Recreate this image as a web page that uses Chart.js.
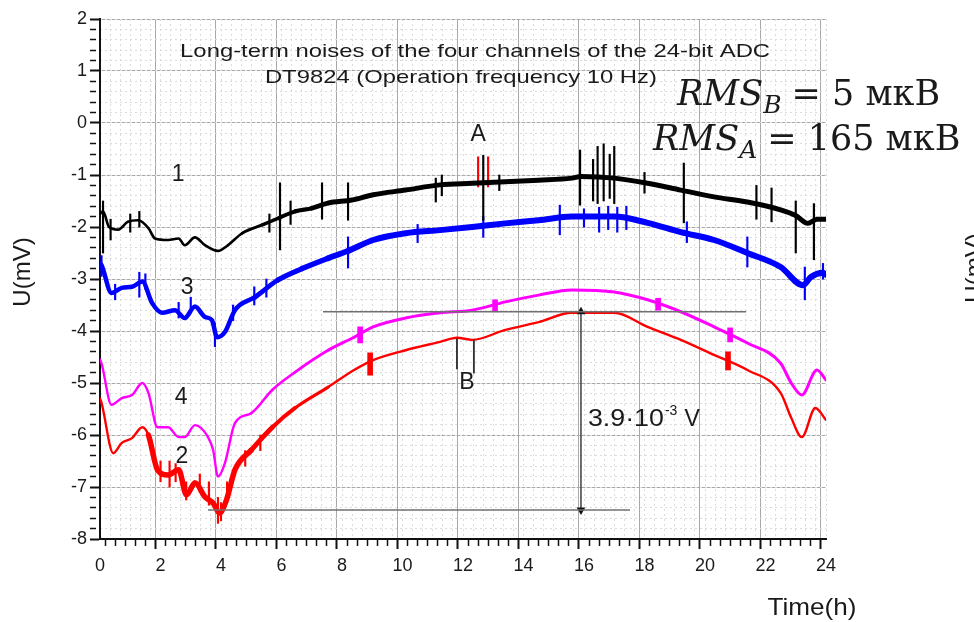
<!DOCTYPE html>
<html>
<head>
<meta charset="utf-8">
<script src="https://cdn.jsdelivr.net/npm/chart.js@4/dist/chart.umd.min.js"></script>
<style>
  html, body { margin: 0; padding: 0; background: #fff; }
  #wrap { width: 974px; height: 622px; position: relative; }
</style>
</head>
<body>
<div id="wrap"><canvas id="noise-chart"></canvas></div>
<script>
// values (time in hours, voltage in mV)
const tBlack = [0, 0.1, 0.3, 0.6, 0.92, 1.26, 1.6, 1.82, 2.25, 2.6, 2.8, 3.14, 3.47, 3.9, 4.23, 4.7, 5.36, 5.9, 6.45, 7.0, 7.54, 8.33, 9.03, 10.1, 11.24, 12.3, 13.4, 14.5, 15.6, 15.9, 17.0, 18.1, 19.2, 20.3, 21.4, 22.5, 23.0, 23.4, 23.7, 24];
const vBlack = [-1.75, -1.7, -2.0, -2.05, -1.9, -1.87, -2.02, -2.22, -2.25, -2.22, -2.35, -2.2, -2.35, -2.46, -2.35, -2.12, -1.96, -1.83, -1.7, -1.64, -1.54, -1.48, -1.38, -1.29, -1.19, -1.16, -1.13, -1.1, -1.06, -1.03, -1.06, -1.16, -1.29, -1.42, -1.52, -1.67, -1.78, -1.93, -1.85, -1.85];

const tBlue = [0, 0.05, 0.38, 0.72, 1.06, 1.4, 1.72, 2.05, 2.48, 2.8, 3.14, 3.47, 3.7, 3.87, 4.13, 4.46, 5.12, 5.88, 6.68, 7.54, 8.2, 9.03, 10.1, 11.24, 12.3, 13.4, 14.5, 15.6, 17.0, 18.1, 19.2, 20.3, 21.4, 22.5, 23.24, 23.5, 23.9, 24];
const vBlue = [-2.7, -2.73, -3.27, -3.17, -3.15, -3.05, -3.46, -3.65, -3.6, -3.75, -3.53, -3.73, -3.79, -4.12, -4.02, -3.6, -3.35, -3.02, -2.8, -2.6, -2.46, -2.25, -2.12, -2.06, -2.0, -1.93, -1.87, -1.8, -1.8, -1.92, -2.1, -2.25, -2.5, -2.77, -3.12, -2.96, -2.88, -2.92];

const tMagenta = [0, 0.05, 0.38, 0.72, 1.06, 1.4, 1.6, 1.9, 2.25, 2.6, 2.8, 3.14, 3.57, 3.74, 3.9, 4.13, 4.46, 5.0, 5.7, 6.45, 7.54, 8.4, 9.03, 10.1, 11.24, 12.3, 13.4, 14.5, 15.6, 17.0, 18.1, 19.2, 20.3, 21.4, 22.5, 22.85, 23.2, 23.7, 24];
const vMagenta = [-4.55, -4.62, -5.42, -5.29, -5.23, -5.0, -5.19, -5.85, -5.85, -6.04, -6.04, -5.81, -6.04, -6.29, -6.8, -6.54, -5.77, -5.58, -5.13, -4.79, -4.37, -4.12, -3.92, -3.75, -3.65, -3.6, -3.44, -3.31, -3.21, -3.25, -3.4, -3.63, -3.92, -4.23, -4.62, -5.0, -5.23, -4.75, -4.94];

const tRed = [0, 0.05, 0.44, 0.72, 1.06, 1.4, 1.6, 1.9, 2.25, 2.6, 2.86, 3.14, 3.47, 3.74, 3.95, 4.18, 4.46, 5.0, 5.7, 6.45, 7.54, 8.4, 9.03, 10.1, 11.24, 11.8, 12.3, 13.4, 14.5, 15.6, 17.0, 18.1, 19.2, 20.3, 21.4, 22.5, 22.85, 23.2, 23.65, 24];
const vRed = [-5.3, -5.38, -6.35, -6.15, -6.06, -5.85, -6.0, -6.67, -6.77, -6.67, -7.15, -6.92, -7.19, -7.31, -7.5, -7.25, -6.67, -6.29, -5.85, -5.48, -5.08, -4.75, -4.56, -4.37, -4.21, -4.13, -4.17, -3.98, -3.83, -3.65, -3.65, -3.92, -4.17, -4.46, -4.75, -5.19, -5.67, -6.04, -5.48, -5.71];

// noise spikes: time, low, high
const spkBlackT = [0.1, 0.35, 1.0, 1.3, 5.6, 5.95, 6.3, 7.34, 8.2, 11.1, 11.3, 12.67, 13.2, 15.87, 16.3, 16.45, 16.65, 16.85, 17.0, 18.0, 19.3, 21.7, 22.2, 23.0, 23.6];
const spkBlackLo = [-2.5, -2.25, -2.1, -2.0, -2.1, -2.44, -1.95, -1.85, -1.87, -1.52, -1.4, -1.87, -1.3, -1.58, -1.5, -1.55, -1.5, -1.45, -1.55, -1.35, -1.92, -1.85, -1.9, -2.5, -2.63];
const spkBlackHi = [-1.5, -1.85, -1.75, -1.7, -1.75, -1.15, -1.5, -1.15, -1.15, -1.06, -1.0, -0.62, -1.0, -0.52, -0.7, -0.45, -0.4, -0.6, -0.45, -0.95, -0.77, -1.2, -1.25, -1.5, -1.55];

const spkBlueT = [0.05, 0.5, 1.3, 1.5, 2.6, 3.0, 3.8, 4.4, 5.1, 5.5, 8.2, 10.5, 12.67, 15.2, 16.0, 16.5, 16.8, 17.1, 17.4, 19.4, 21.4, 23.3, 23.9];
const spkBlueLo = [-2.95, -3.4, -3.35, -3.2, -3.75, -3.65, -4.3, -3.8, -3.5, -3.35, -2.79, -2.3, -2.2, -2.15, -2.0, -2.1, -2.05, -2.1, -2.05, -2.3, -2.77, -3.4, -3.0];
const spkBlueHi = [-2.55, -3.1, -2.87, -2.9, -3.45, -3.35, -3.85, -3.5, -3.15, -3.0, -2.19, -1.95, -1.8, -1.58, -1.65, -1.62, -1.6, -1.62, -1.6, -1.9, -2.19, -2.77, -2.7];

const spkRedT = [2.0, 2.3, 2.5, 2.85, 3.3, 3.6, 3.9, 4.0, 4.2, 4.8, 5.3, 12.5, 12.83];
const spkRedLo = [-6.9, -7.0, -6.9, -7.25, -7.1, -7.35, -7.7, -7.65, -7.3, -6.6, -6.3, -1.23, -1.23];
const spkRedHi = [-6.5, -6.5, -6.55, -6.9, -6.75, -6.9, -7.2, -7.3, -6.9, -6.3, -6.0, -0.65, -0.65];

// fuzzy bursts
const burstMagT = [8.6, 13.06, 18.45, 20.83];
const burstMagLo = [-4.23, -3.63, -3.6, -4.21];
const burstMagHi = [-3.92, -3.4, -3.37, -3.94];
const burstRedT = [8.93, 20.76];
const burstRedLo = [-4.85, -4.75];
const burstRedHi = [-4.42, -4.4];

// annotation marks
const refTop = {t0: 7.37, t1: 21.36, v: -3.63};
const refBottom = {t0: 3.57, t1: 17.52, v: -7.44};
const arrowT = 15.9;
const markBT = [11.8, 12.36];
const markBLo = [-4.73, -4.81];
const markBHi = [-4.15, -4.17];

const xMajor = [0, 2, 4, 6, 8, 10, 12, 14, 16, 18, 20, 22, 24];
const yMajor = [-8, -7, -6, -5, -4, -3, -2, -1, 0, 1, 2];
const titleLines = ['Long-term noises of the four channels of the 24-bit ADC', 'DT9824 (Operation frequency 10 Hz)'];
const curveTags = [['1', 2.58, -1.0], ['3', 2.88, -3.17], ['4', 2.68, -5.29], ['2', 2.71, -6.42], ['A', 12.5, -0.23], ['B', 12.13, -5.0]];

const pts = (ts, vs) => ts.map((t, i) => ({x: t, y: vs[i]}));
const bars = (ts, lo, hi) => ts.map((t, i) => ({x: t, y: [lo[i], hi[i]]}));

const xMinor = [];
for (let i = 0; i <= 72; i++) xMinor.push(i / 3);
const yMinor = [];
for (let i = 0; i <= 50; i++) yMinor.push(Math.round((-8 + i * 0.2) * 10) / 10);
const isMajX = c => !c.tick || xMajor.some(m => Math.abs(m - c.tick.value) < 1e-6);
const isMajY = c => !c.tick || yMajor.some(m => Math.abs(m - c.tick.value) < 1e-6);

// line width that grows from w0 to w1 between t0 and t1 (noisier stretch drawn wider)
const ramp = (w0, w1, t0, t1) => t => t <= t0 ? w0 : t >= t1 ? w1 : w0 + (w1 - w0) * (t - t0) / (t1 - t0);

function lineSet(label, data, color, width, order) {
    return {type: 'line', label: label, data: data, borderColor: color, backgroundColor: color,
            borderWidth: width, pointRadius: 0, tension: 0, fill: false, order: order,
            borderJoinStyle: 'round'};
}
function curveSet(label, data, color, width, order) {
    const ds = lineSet(label, data, color, 2, order);
    ds.cubicInterpolationMode = 'monotone';
    ds.borderCapStyle = 'round';
    ds.segment = {borderWidth: c => width(c.p0.parsed.x)};
    return ds;
}
function barSet(label, data, color, thick, order) {
    return {type: 'bar', label: label, data: data, backgroundColor: color, borderWidth: 0,
            barThickness: thick, grouped: false, order: order};
}

const notes = {
    id: 'notes',
    afterDraw(chart) {
        const {ctx} = chart;
        const X = v => chart.scales.x.getPixelForValue(v);
        const Y = v => chart.scales.y.getPixelForValue(v);
        // text stretched to the width it has in the picture
        const fit = (s, x, y, w, align) => {
            const m = ctx.measureText(s).width;
            ctx.save();
            ctx.translate(x, y);
            ctx.scale(w / m, 1);
            ctx.textAlign = align || 'center';
            ctx.fillText(s, 0, 0);
            ctx.restore();
        };
        ctx.save();
        ctx.fillStyle = '#1a1a1a';
        ctx.textBaseline = 'middle';
        ctx.textAlign = 'center';
        ctx.font = '19px "Liberation Sans"';
        fit(titleLines[0], X(12.4), Y(1.37), 590);
        fit(titleLines[1], X(11.93), Y(0.87), 392);

        ctx.font = '23px "Liberation Sans"';
        curveTags.forEach(c => ctx.fillText(c[0], X(c[1]), Y(c[2])));

        // 3.9·10^-3 V
        ctx.textAlign = 'left';
        ctx.font = '23px "Liberation Sans"';
        let px = X(16.13), py = Y(-5.71);
        fit('3.9\u00b710', px, py, 76, 'left');
        px += 77;
        ctx.font = '14px "Liberation Sans"';
        ctx.fillText('-3', px, py - 9);
        px += ctx.measureText('-3').width + 7;
        ctx.font = '23px "Liberation Sans"';
        ctx.fillText('V', px, py);

        // axis titles
        ctx.font = '24px "Liberation Sans"';
        ctx.textAlign = 'center';
        fit('Time(h)', 812, 608, 89);
        ctx.save();
        ctx.translate(23, 272);
        ctx.rotate(-Math.PI / 2);
        ctx.fillText('U(mV)', 0, 0);
        ctx.restore();
        // cut-off label of the neighbouring panel
        ctx.save();
        ctx.translate(963, 268);
        ctx.rotate(-Math.PI / 2);
        ctx.textBaseline = 'top';
        ctx.fillText('U(mV)', 0, 0);
        ctx.restore();

        // RMS notes
        const rms = (x0, base, sub, rest) => {
            ctx.textAlign = 'left';
            ctx.textBaseline = 'alphabetic';
            ctx.font = 'italic 35px "DejaVu Serif"';
            ctx.fillText('RMS', x0, base);
            let x = x0 + ctx.measureText('RMS').width;
            ctx.font = 'italic 25px "DejaVu Serif"';
            ctx.fillText(sub, x, base + 8);
            x += ctx.measureText(sub).width + 10;
            ctx.font = '35px "DejaVu Serif"';
            ctx.fillText(rest, x, base);
        };
        rms(677, 105, 'B', '= 5 \u043c\u043a\u0412');
        rms(653, 150, 'A', '= 165 \u043c\u043a\u0412');
        ctx.restore();
    }
};

const tickFont = {family: 'Liberation Sans', size: 18};

new Chart('noise-chart', {
    type: 'line',
    data: {
        datasets: [
            lineSet('ref top', [{x: refTop.t0, y: refTop.v}, {x: refTop.t1, y: refTop.v}], '#707070', 1.5, 0),
            lineSet('ref bottom', [{x: refBottom.t0, y: refBottom.v}, {x: refBottom.t1, y: refBottom.v}], '#707070', 1.5, 0),
            Object.assign(lineSet('arrow', [{x: arrowT, y: refTop.v}, {x: arrowT, y: refBottom.v}], '#111', 1.2, 0),
                {pointRadius: 5, pointStyle: 'triangle', pointRotation: [0, 180], pointBorderWidth: 0}),
            barSet('B marks', bars(markBT, markBLo, markBHi), '#333', 1.2, 0),
            barSet('black spikes', bars(spkBlackT, spkBlackLo, spkBlackHi), '#000', 1.5, 1),
            curveSet('1', pts(tBlack, vBlack), '#000', ramp(2.6, 5, 4.2, 7.5), 1),
            barSet('blue spikes', bars(spkBlueT, spkBlueLo, spkBlueHi), '#0000ff', 1.5, 2),
            curveSet('3', pts(tBlue, vBlue), '#0000ff', ramp(4.5, 6, 4.5, 8), 2),
            barSet('magenta bursts', bars(burstMagT, burstMagLo, burstMagHi), '#ff00ff', 5, 3),
            curveSet('4', pts(tMagenta, vMagenta), '#ff00ff', ramp(2.4, 3, 4.5, 8), 3),
            barSet('red spikes', bars(spkRedT, spkRedLo, spkRedHi), '#ff0000', 1.5, 4),
            barSet('red bursts', bars(burstRedT, burstRedLo, burstRedHi), '#ff0000', 5, 4),
            curveSet('2', pts(tRed, vRed), '#ff0000', t => t < 1.6 ? 2.4 : t < 4.5 ? 5.5 : Math.max(2.4, 5.5 - (t - 4.5) * 1.2), 4)
        ]
    },
    options: {
        responsive: true,
        maintainAspectRatio: false,
        animation: false,
        layout: {padding: {top: 19, right: 148, left: 0, bottom: 0}},
        plugins: {legend: {display: false}, tooltip: {enabled: false}, title: {display: false}},
        scales: {
            x: {
                type: 'linear', min: 0, max: 24, position: 'bottom', offset: false,
                afterBuildTicks: s => { s.ticks = xMinor.map(v => ({value: v})); },
                afterFit: s => { s.height = 83; },
                ticks: {autoSkip: false, maxRotation: 0, padding: 6, color: '#1a1a1a', font: tickFont,
                        callback: v => xMajor.some(m => Math.abs(m - v) < 1e-6) ? String(Math.round(v)) : ''},
                grid: {color: c => isMajX(c) ? '#a8a8a8' : 'rgba(0,0,0,0)',
                       tickLength: 10, tickColor: '#111',
                       tickWidth: c => isMajX(c) ? 2 : 1.5,
                       tickBorderDash: c => isMajX(c) ? [] : [6, 30]},
                border: {color: '#111', width: 2}
            },
            xm: {
                type: 'linear', min: 0, max: 24, position: 'bottom', offset: false,
                afterBuildTicks: s => { s.ticks = xMinor.map(v => ({value: v})); },
                afterFit: s => { s.height = 0; },
                ticks: {display: false},
                grid: {color: '#dcdcdc', drawTicks: false, z: -1},
                border: {display: false, dash: [2, 3]}
            },
            y: {
                type: 'linear', min: -8, max: 2, position: 'left',
                afterBuildTicks: s => { s.ticks = yMinor.map(v => ({value: v})); },
                afterFit: s => { s.width = 100; },
                ticks: {autoSkip: false, padding: 3, color: '#1a1a1a', font: tickFont,
                        callback: v => yMajor.some(m => Math.abs(m - v) < 1e-6) ? String(Math.round(v)) : ''},
                grid: {color: c => isMajY(c) ? '#a8a8a8' : 'rgba(0,0,0,0)',
                       tickLength: 10, tickColor: '#111',
                       tickWidth: c => isMajY(c) ? 2 : 1.5,
                       tickBorderDash: c => isMajY(c) ? [] : [6, 30]},
                border: {color: '#111', width: 2}
            },
            ym: {
                type: 'linear', min: -8, max: 2, position: 'left',
                afterBuildTicks: s => { s.ticks = yMinor.map(v => ({value: v})); },
                afterFit: s => { s.width = 0; },
                ticks: {display: false},
                grid: {color: '#dcdcdc', drawTicks: false, z: -1},
                border: {display: false, dash: [2, 3]}
            }
        }
    },
    plugins: [notes]
});
</script>
</body>
</html>
